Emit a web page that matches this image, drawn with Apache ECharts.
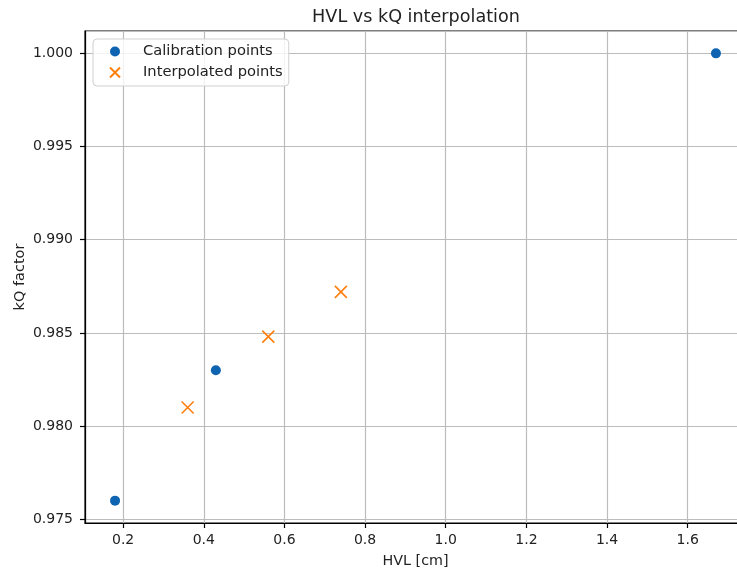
<!DOCTYPE html>
<html>
<head>
<meta charset="utf-8">
<script src="https://cdn.jsdelivr.net/npm/echarts@6/dist/echarts.min.js"></script>
<style>
  html, body { margin: 0; padding: 0; background: #fff; }
  #chart { width: 737px; height: 573px; }
</style>
</head>
<body>
<div id="chart"></div>
<script>
// calibration points (HVL in cm, kQ factor)
const calibHvl = [0.18, 0.43, 1.67];
const calibKq = [0.976, 0.983, 1.000];
// interpolated points
const interpHvl = [0.36, 0.56, 0.74];
const interpKq = [0.9810, 0.9848, 0.9872];

// axis limits (matplotlib auto margins)
const xRange = [0.1055, 1.7445];
const yRange = [0.9748, 1.0012];

const FONT = 'DejaVu Sans';
const TXT = '#222';

const zip = (a, b) => a.map((v, i) => [v, b[i]]);

const chart = echarts.init(document.getElementById('chart'), null, { renderer: 'canvas' });

const option = {
    backgroundColor: '#fff',
    animation: false,
    title: {
        text: 'HVL vs kQ interpolation',
        left: 411,
        top: 3,
        textAlign: 'center',
        textStyle: { fontFamily: FONT, fontSize: 17.6, fontWeight: 'normal', color: TXT }
    },
    grid: {
        left: 85,
        top: 31,
        width: 661,
        height: 492,
        outerBoundsMode: 'none',
        containLabel: false,
        show: true,
        borderColor: '#000',
        borderWidth: 1.2,
        backgroundColor: 'transparent'
    },
    legend: {
        orient: 'vertical',
        left: 93,
        top: 39,
        padding: [5, 6, 6, 16],
        itemGap: 6,
        itemWidth: 10,
        itemHeight: 16,
        backgroundColor: 'rgba(255,255,255,0.8)',
        borderColor: '#d0d0d0',
        borderWidth: 1,
        borderRadius: 4,
        textStyle: { fontFamily: FONT, fontSize: 14.7, color: TXT, padding: [0, 0, 0, 18] },
        data: ['Calibration points', 'Interpolated points']
    },
    xAxis: {
        type: 'value',
        min: xRange[0],
        max: xRange[1],
        splitNumber: 8,
        name: 'HVL [cm]',
        nameLocation: 'middle',
        nameGap: 31,
        nameMoveOverlap: false,
        nameTextStyle: { fontFamily: FONT, fontSize: 14.3, color: TXT },
        axisLine: { show: true, onZero: false, lineStyle: { color: '#000', width: 1.2 } },
        axisTick: { show: true, length: 5, lineStyle: { color: '#000', width: 1.2 } },
        axisLabel: {
            margin: 10,
            showMinLabel: false,
            showMaxLabel: false,
            fontFamily: FONT, fontSize: 14, color: TXT,
            formatter: v => v.toFixed(1)
        },
        splitLine: { show: true, lineStyle: { color: '#bcbcbc', width: 1.2 } }
    },
    yAxis: {
        type: 'value',
        min: yRange[0],
        max: yRange[1],
        splitNumber: 5,
        name: 'kQ factor',
        nameLocation: 'middle',
        nameGap: 57,
        nameRotate: 90,
        nameMoveOverlap: false,
        nameTextStyle: { fontFamily: FONT, fontSize: 14.5, color: TXT },
        axisLine: { show: true, onZero: false, lineStyle: { color: '#000', width: 1.2 } },
        axisTick: { show: true, length: 5, lineStyle: { color: '#000', width: 1.2 } },
        axisLabel: {
            margin: 12,
            showMinLabel: false,
            showMaxLabel: false,
            fontFamily: FONT, fontSize: 14, color: TXT,
            formatter: v => v.toFixed(3)
        },
        splitLine: { show: true, lineStyle: { color: '#bcbcbc', width: 1.2 } }
    },
    series: [
        {
            name: 'Calibration points',
            type: 'scatter',
            symbol: 'circle',
            symbolSize: 10,
            itemStyle: { color: '#0f64b2', opacity: 1 },
            data: zip(calibHvl, calibKq),
            z: 3
        },
        {
            name: 'Interpolated points',
            type: 'scatter',
            symbol: 'path://M0,0L10,10M10,0L0,10',
            symbolSize: 12,
            itemStyle: { color: 'rgba(0,0,0,0)', borderColor: '#ff7f0e', borderWidth: 1.6, opacity: 1 },
            data: zip(interpHvl, interpKq),
            z: 3
        }
    ]
};

chart.setOption(option);
</script>
</body>
</html>
